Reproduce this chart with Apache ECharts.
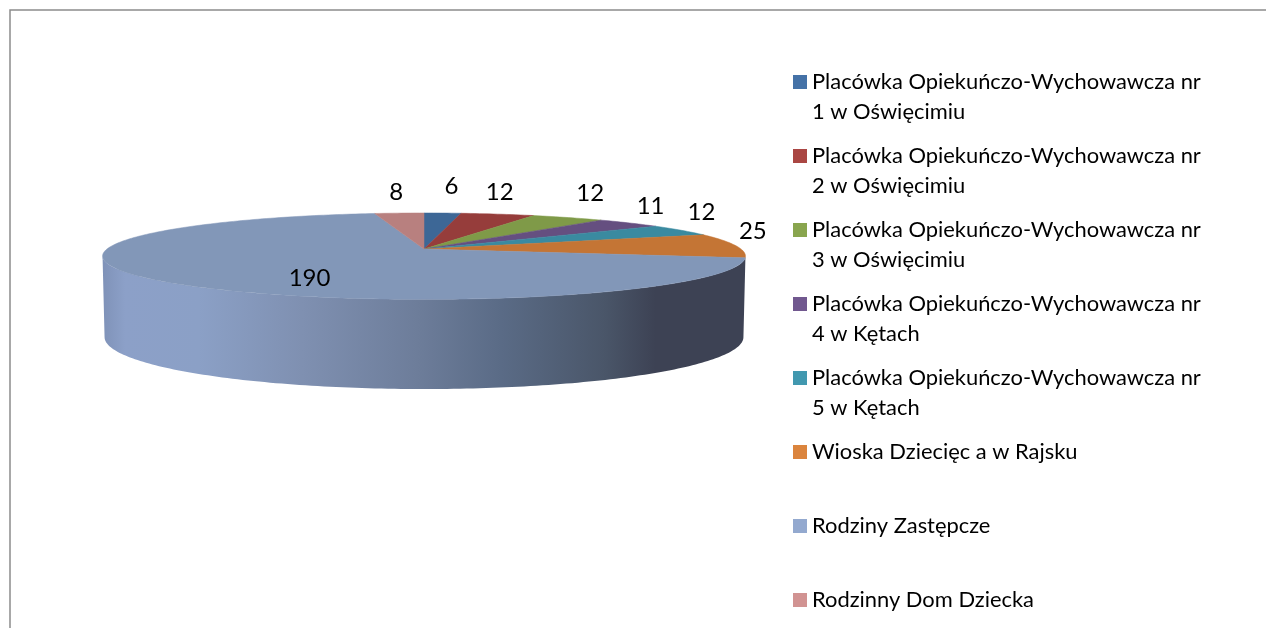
<!DOCTYPE html>
<html>
<head>
<meta charset="utf-8">
<script src="https://cdn.jsdelivr.net/npm/echarts@6/dist/echarts.min.js"></script>
<style>
  html, body { margin: 0; padding: 0; background: #fff; overflow: hidden; }
  #chart { width: 1266px; height: 628px; }
</style>
</head>
<body>
<div id="chart"></div>
<script>
const categories = [
    'Placówka Opiekuńczo-Wychowawcza nr\n1 w Oświęcimiu',
    'Placówka Opiekuńczo-Wychowawcza nr\n2 w Oświęcimiu',
    'Placówka Opiekuńczo-Wychowawcza nr\n3 w Oświęcimiu',
    'Placówka Opiekuńczo-Wychowawcza nr\n4 w Kętach',
    'Placówka Opiekuńczo-Wychowawcza nr\n5 w Kętach',
    'Wioska Dziecięc a w Rajsku',
    'Rodziny Zastępcze',
    'Rodzinny Dom Dziecka'
];
const values = [6, 12, 12, 11, 12, 25, 190, 8];

const legendColors = ['#4572a7', '#aa4643', '#89a54e', '#71588f', '#4198af', '#db843d', '#93a9cf', '#d19392'];
const topColors = ['#3d6796', '#963d3b', '#7f9a48', '#654f80', '#3a8aa0', '#c47535', '#8297b8', '#b8807f'];

// label offset from the slice's rim midpoint
const labelOffsets = [[9, -27], [2, -22], [22, -24], [21, -17], [20, -18], [17, -14], [142, -4], [-3, -21]];

// projected disc, fitted to the picture
const FONT = 'Lato';
const CX = 424;
const TOP_Y = 249;
const R = 317;
const Q = 42;
const K = 0.166;
const BOTTOM_Y = 328.5;
const BOTTOM_R = 315;
const BOTTOM_Q = 50.5;

const total = values.reduce((a, b) => a + b, 0);

function project(deg, y0, r, q) {
    const a = deg * Math.PI / 180;
    const x = Math.sin(a);
    const y = Math.cos(a);
    const s = 1 / (1 + K * y);
    return [CX + r * x * s, y0 - q * y * s];
}

function arc(from, to, y0, r, q) {
    const pts = [];
    const n = Math.max(2, Math.ceil(Math.abs(to - from)));
    for (let i = 0; i <= n; i++) {
        pts.push(project(from + (to - from) * i / n, y0, r, q));
    }
    return pts;
}

function wallPoints() {
    // visible part of the rim, between the two tangent points
    const start = 90 + Math.asin(K) * 180 / Math.PI;
    const end = 360 - start;
    return arc(start, end, TOP_Y, R, Q).concat(arc(end, start, BOTTOM_Y, BOTTOM_R, BOTTOM_Q));
}

function makeSeries(name, index) {
    const before = values.slice(0, index).reduce((a, b) => a + b, 0);
    return {
        name: name,
        type: 'custom',
        coordinateSystem: 'none',
        itemStyle: { color: legendColors[index] },
        data: [values[index]],
        renderItem: function (params, api) {
            const value = api.value(0);
            const from = before / total * 360;
            const to = (before + value) / total * 360;
            const mid = project((from + to) / 2, TOP_Y, R, Q);
            const children = [];
            if (value === Math.max.apply(null, values)) {
                children.push({
                    type: 'polygon',
                    shape: { points: wallPoints() },
                    style: {
                        fill: new echarts.graphic.LinearGradient(0, 0, 1, 0, [
                            { offset: 0, color: '#7f92b8' },
                            { offset: 0.035, color: '#8ca0c8' },
                            { offset: 0.15, color: '#8ba0c6' },
                            { offset: 0.31, color: '#7f90b1' },
                            { offset: 0.49, color: '#6d7d9a' },
                            { offset: 0.62, color: '#5a6b86' },
                            { offset: 0.78, color: '#4a5669' },
                            { offset: 0.86, color: '#3d4254' },
                            { offset: 1, color: '#3d4254' }
                        ])
                    }
                });
            }
            children.push({
                type: 'polygon',
                shape: { points: [[CX, TOP_Y]].concat(arc(from, to, TOP_Y, R, Q)) },
                style: { fill: topColors[index], stroke: topColors[index], lineWidth: 0.5 }
            });
            children.push({
                type: 'text',
                z2: 10,
                style: {
                    text: String(value),
                    x: mid[0] + labelOffsets[index][0],
                    y: mid[1] + labelOffsets[index][1],
                    align: 'center',
                    verticalAlign: 'middle',
                    fill: '#000',
                    font: '24px ' + FONT
                }
            });
            return { type: 'group', children: children };
        }
    };
}

const chart = echarts.init(document.getElementById('chart'));
chart.setOption({
    animation: false,
    backgroundColor: '#fff',
    color: legendColors,
    tooltip: { show: false },
    legend: {
        orient: 'vertical',
        left: 793,
        top: 37,
        height: 800,
        padding: 0,
        itemWidth: 14,
        itemHeight: 14,
        itemGap: -16,
        icon: 'rect',
        selectedMode: false,
        data: categories,
        // a blank line above keeps the marker level with the first line of text
        formatter: function (name) {
            return '\n' + name + (name.indexOf('\n') < 0 ? '\n ' : '');
        },
        textStyle: { fontFamily: FONT, fontSize: 21.9, lineHeight: 30, color: '#000', padding: 0 }
    },
    graphic: [{
        type: 'rect',
        silent: true,
        shape: { x: 10, y: 10, width: 1400, height: 800 },
        style: { fill: 'none', stroke: '#8c8c8c', lineWidth: 1.5 }
    }],
    series: categories.map(makeSeries)
});

window.addEventListener('resize', chart.resize);
</script>
</body>
</html>
